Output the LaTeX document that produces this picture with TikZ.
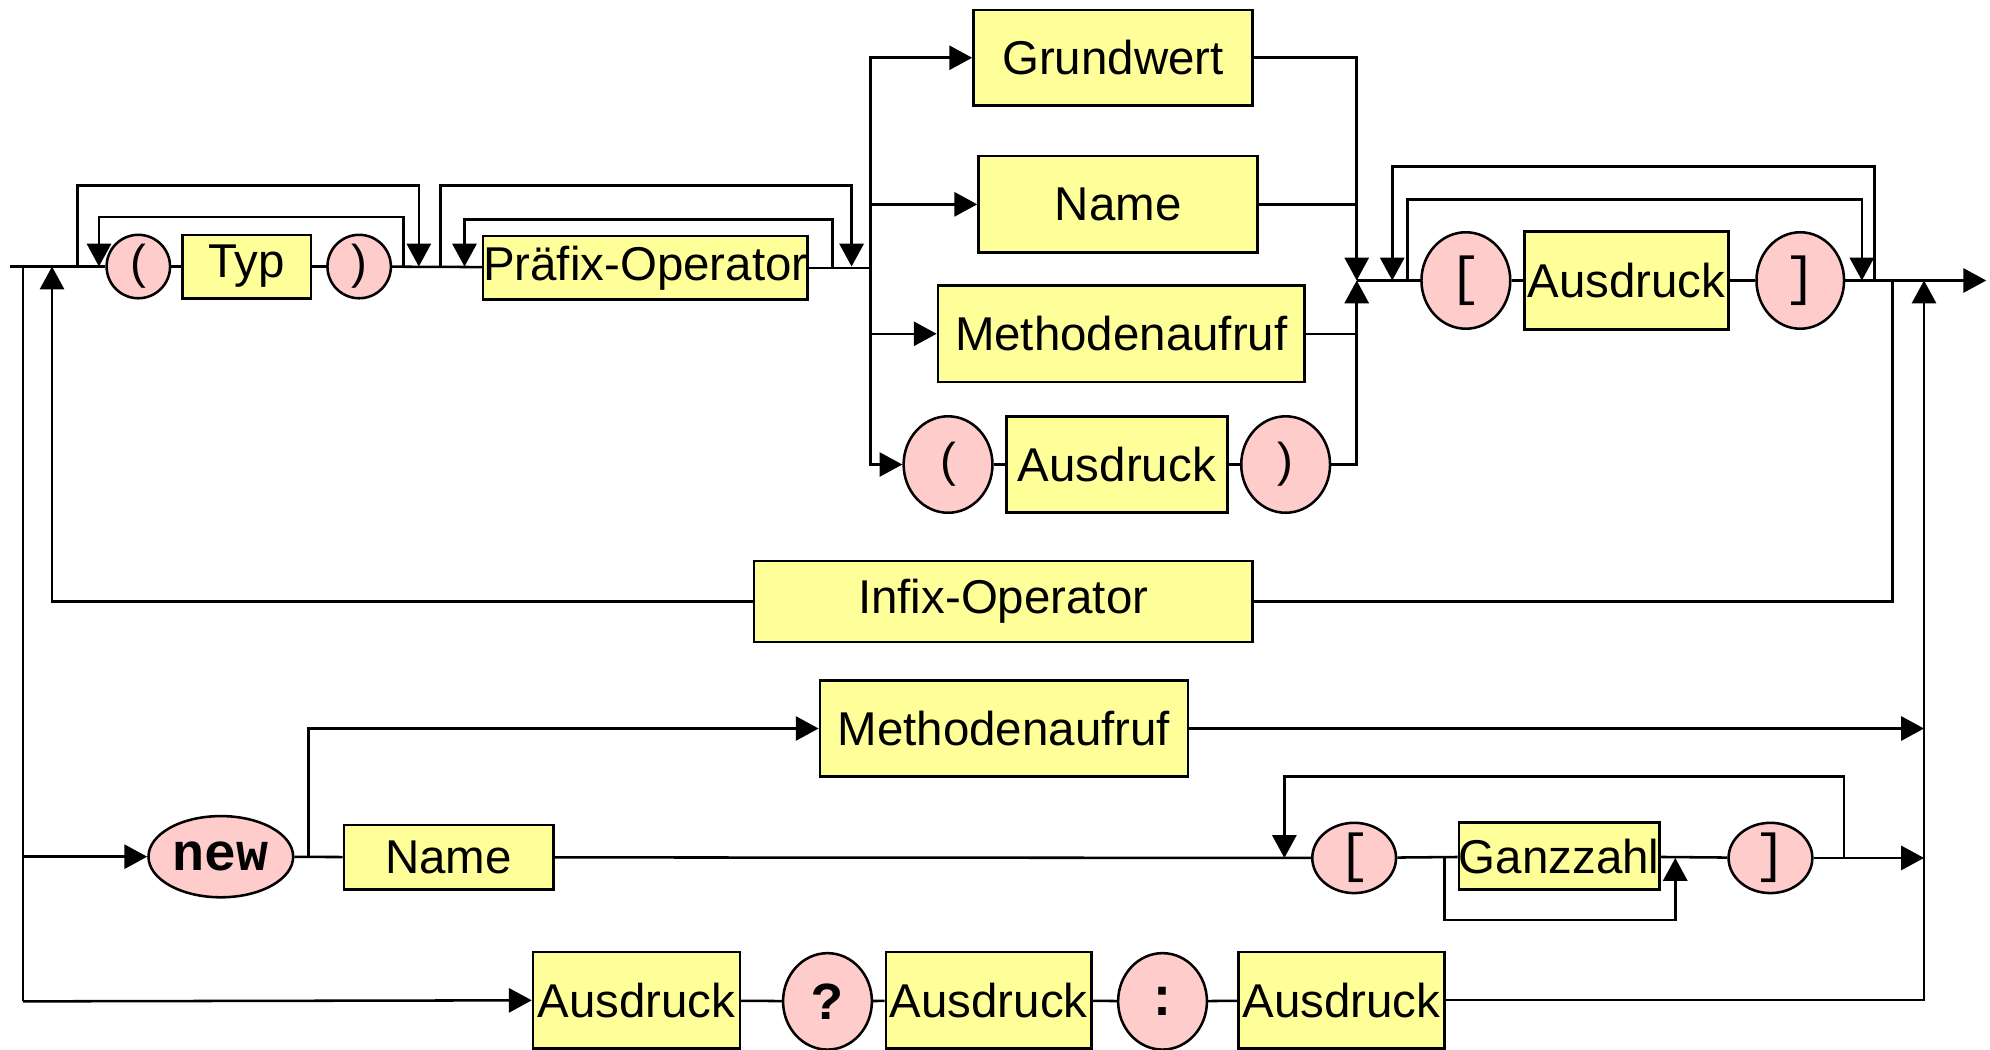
\documentclass[tikz,border=0pt]{standalone}
\usepackage{fontspec}
\setmainfont{Liberation Sans}
\setmonofont{Liberation Mono}
\usetikzlibrary{arrows.meta}
\usetikzlibrary{shapes.geometric}
\definecolor{boxyellow}{HTML}{FFFF99}
\definecolor{tokenpink}{HTML}{FFCCCC}
\tikzset{%
  myedge/.style={->, >={Triangle[length=9pt, width=9.5pt]}},
  mybox/.style={rectangle, draw=black, fill=boxyellow, inner sep=0pt, font=\fontsize{18.7}{20}\selectfont},
  mytoken/.style={ellipse, draw=black, fill=tokenpink, inner sep=0pt, font=\fontsize{18.7}{20}\selectfont},
  mykey/.style={mytoken, font=\fontsize{21}{22}\selectfont\ttfamily\bfseries}
}
\begin{document}
\begin{tikzpicture}[x=0.5pt, y=-0.5pt, line width=1pt]
  \useasboundingbox (0,0) rectangle (1568,827);
  % erste Zeile
  \node[mytoken, minimum width=25pt, minimum height=25pt] (lp1) at (109,210) {(};
  \node[mybox, minimum width=50.5pt, minimum height=25pt] (typ) at (194.5,210) {Typ};
  \node[mytoken, minimum width=25pt, minimum height=25pt] (rp1) at (283,210) {)};
  \node[mybox, minimum width=127.5pt, minimum height=25pt] (praefix) at (508.5,211) {Präfix-Operator};
  \node[mybox, minimum width=110pt, minimum height=37.5pt] (grund) at (877,45.5) {Grundwert};
  \node[mybox, minimum width=110pt, minimum height=38pt] (name1) at (881,161) {Name};
  \node[mybox, minimum width=144.5pt, minimum height=38pt] (meth1) at (883.5,263) {Methodenaufruf};
  \node[mytoken, minimum width=35pt, minimum height=38pt] (lp2) at (747,366) {(};
  \node[mybox, minimum width=87pt, minimum height=38pt] (ausd1) at (880,366) {Ausdruck};
  \node[mytoken, minimum width=35pt, minimum height=38pt] (rp2) at (1013,366) {)};
  \node[mytoken, minimum width=35pt, minimum height=38pt, font=\fontsize{21}{22}\selectfont\ttfamily] (lb1) at (1155,221) {[};
  \node[mybox, minimum width=80.5pt, minimum height=38.5pt] (ausd2) at (1281.5,221) {Ausdruck};
  \node[mytoken, minimum width=34.5pt, minimum height=38pt, font=\fontsize{21}{22}\selectfont\ttfamily] (rb1) at (1418.5,221) {]};
  \node[mybox, minimum width=196.5pt, minimum height=32pt] (infix) at (790.5,474) {Infix-Operator};
  % new-Zweig
  \node[mykey, minimum width=57pt, minimum height=32pt] (new) at (174,675) {new};
  \node[mybox, minimum width=145pt, minimum height=38pt] (meth2) at (791,574) {Methodenaufruf};
  \node[mybox, minimum width=82.5pt, minimum height=25.5pt] (name2) at (353.5,675.5) {Name};
  \node[mytoken, minimum width=33pt, minimum height=26pt, font=\fontsize{21}{22}\selectfont\ttfamily] (lb2) at (1067,676) {[};
  \node[mybox, minimum width=78.5pt, minimum height=26.5pt] (ganz) at (1228.5,674.5) {Ganzzahl};
  \node[mytoken, minimum width=33pt, minimum height=26pt, font=\fontsize{21}{22}\selectfont\ttfamily] (rb2) at (1395,676) {]};
  % Bedingung
  \node[mybox, minimum width=81.5pt, minimum height=38pt] (ausd3) at (501.5,788) {Ausdruck};
  \node[mykey, minimum width=35pt, minimum height=38pt] (quest) at (652,789) {?};
  \node[mybox, minimum width=81pt, minimum height=38pt] (ausd4) at (779,788) {Ausdruck};
  \node[mykey, minimum width=35pt, minimum height=38pt] (colon) at (916,789) {:};
  \node[mybox, minimum width=81pt, minimum height=38pt] (ausd5) at (1057,788) {Ausdruck};
  % Hilfspunkte
  \coordinate (start) at (8,210);
  \coordinate (down) at (18,210);
  \coordinate (back) at (41,210);
  \coordinate (split) at (686,211);
  \coordinate (merge) at (1069,221);
  \coordinate (infixout) at (1491,221);
  \coordinate (collect) at (1516,221);
  \coordinate (finish) at (1565,221);
  \coordinate (fork) at (243,675);
  % erste Zeile
  \draw (start) -- (lp1);
  \draw (lp1) -- (typ);
  \draw (typ) -- (rp1);
  \draw (rp1) -- (praefix);
  \draw (praefix) -- (split);
  \draw[myedge] (61,210) |- (330,146) -- (330,210);
  \draw[myedge] (318,210) |- (78,171) -- (78,210);
  \draw[myedge] (347,210) |- (671,146) -- (671,210);
  \draw[myedge] (656,211) |- (366,173) -- (366,210);
  \draw (split) -- (686,366);
  \draw[myedge] (split) |- (grund);
  \draw[myedge] (split) |- (name1);
  \draw[myedge] (split) |- (meth1);
  \draw[myedge] (split) |- (lp2);
  \draw (lp2) -- (ausd1);
  \draw (ausd1) -- (rp2);
  \draw[myedge] (grund) -| (merge);
  \draw (name1) -- (name1 -| merge);
  \draw (meth1) -- (meth1 -| merge);
  \draw[myedge] (rp2) -| (merge);
  \draw (merge) -- (lb1);
  \draw (lb1) -- (ausd2);
  \draw (ausd2) -- (rb1);
  \draw[myedge] (rb1) -- (finish);
  \draw[myedge] (1477,221) |- (1097,131) -- (1097,221);
  \draw[myedge] (1109,221) |- (1467,157) -- (1467,221);
  % Infix-Rueckweg
  \draw (infixout) |- (infix);
  \draw[myedge] (infix) -| (back);
  % linke Abzweigung
  \draw (down) -- (18,789);
  \draw[myedge] (down |- new) -- (new);
  \draw[myedge] (18,789) -- (ausd3);
  % new
  \draw (new) -- (name2);
  \draw[myedge] (fork) |- (meth2);
  \draw[myedge] (meth2) -- (meth2 -| collect);
  \draw (name2) -- (lb2);
  \draw[myedge] (1453,676) |- (1012,612) -- (1012,676);
  \draw (lb2) -- (ganz);
  \draw (ganz) -- (rb2);
  \draw[myedge] (1138,676) |- (1320,725) -- (1320,676);
  \draw[myedge] (rb2) -- (rb2 -| collect);
  % Bedingung
  \draw (ausd3) -- (quest);
  \draw (quest) -- (ausd4);
  \draw (ausd4) -- (colon);
  \draw (colon) -- (ausd5);
  \draw[myedge] (ausd5) -| (collect);
\end{tikzpicture}
\end{document}
